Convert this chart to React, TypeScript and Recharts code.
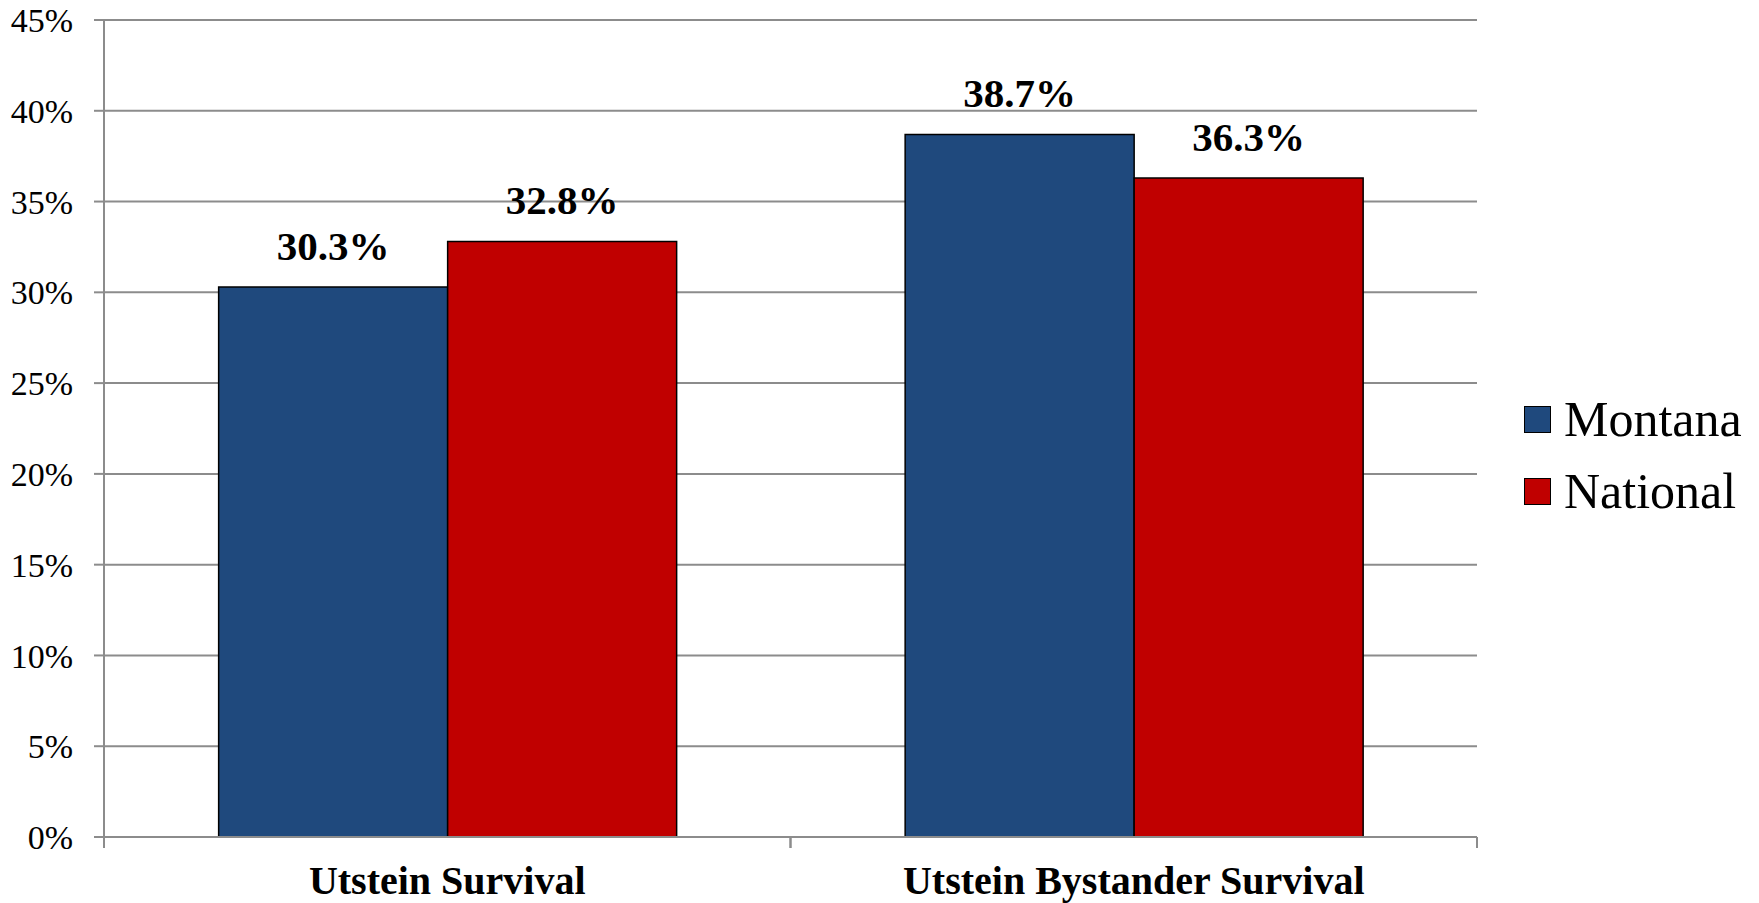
import React from 'react';
import { BarChart, Bar, XAxis, YAxis, CartesianGrid, Legend, LabelList } from 'recharts';

const categories = ['Utstein Survival', 'Utstein Bystander Survival'];
const montanaValues = [0.303, 0.387];
const nationalValues = [0.328, 0.363];
const yTicks = [0, 0.05, 0.1, 0.15, 0.2, 0.25, 0.3, 0.35, 0.4, 0.45];
const seriesNames = ['Montana', 'National'];
const seriesColors = ['#1F497D', '#C00000'];

const data = categories.map((c) => ({ category: c } as Record<string, any>));
categories.forEach((_, i) => {
  data[i].Montana = montanaValues[i];
  data[i].National = nationalValues[i];
});

const FONT = '"Liberation Serif", "Times New Roman", serif';
const GRID = '#8C8C8C';
const CAT_MARGIN = 31;
const CAT_TICK_LEN = 11;

const pct0 = (v: number) => `${Math.round(v * 100)}%`;
const pct1 = (v: any) => `${(Number(v) * 100).toFixed(1)}%`;

const CategoryTick = (props: any) => {
  const { x, y, payload } = props;
  const half = payload && payload.offset ? payload.offset : 0;
  const axisY = y - CAT_MARGIN;
  return (
    <g>
      <line x1={x - half} x2={x - half} y1={axisY} y2={axisY + CAT_TICK_LEN} stroke={GRID} strokeWidth={2} />
      <line x1={x + half} x2={x + half} y1={axisY} y2={axisY + CAT_TICK_LEN} stroke={GRID} strokeWidth={2} />
      <text
        x={x}
        y={y}
        dy={26}
        textAnchor="middle"
        fontFamily={FONT}
        fontWeight="bold"
        fontSize={40}
        fill="#000"
      >
        {payload.value}
      </text>
    </g>
  );
};

const LegendContent = () => (
  <div style={{ fontFamily: FONT, fontSize: 50, color: '#000' }}>
    {seriesNames.map((n, i) => (
      <div key={n} style={{ display: 'flex', alignItems: 'center', height: 72 }}>
        <div
          style={{
            boxSizing: 'border-box',
            flexShrink: 0,
            width: 27,
            height: 27,
            background: seriesColors[i],
            border: '1.5px solid #000',
            marginLeft: 47,
            marginRight: 13,
          }}
        />
        <span style={{ lineHeight: 1, whiteSpace: 'nowrap' }}>{n}</span>
      </div>
    ))}
  </div>
);

export default function App() {
  return (
    <div style={{ position: 'absolute', left: 0, top: 0, width: 1759, height: 903, background: '#fff' }}>
      <BarChart
        width={1759}
        height={903}
        data={data}
        margin={{ top: 20, right: 42, bottom: 0, left: 0 }}
        barCategoryGap="16.7%"
        barGap={0}
      >
        <CartesianGrid horizontal vertical={false} stroke={GRID} strokeWidth={2} />
        <XAxis
          dataKey="category"
          type="category"
          height={66}
          axisLine={{ stroke: GRID, strokeWidth: 2 }}
          tickLine={false}
          tickSize={0}
          tickMargin={CAT_MARGIN}
          tick={<CategoryTick />}
          interval={0}
        />
        <YAxis
          width={104}
          domain={[0, 0.45]}
          ticks={yTicks}
          tickFormatter={pct0}
          tickSize={10}
          tickMargin={21}
          axisLine={{ stroke: GRID, strokeWidth: 2 }}
          tickLine={{ stroke: GRID, strokeWidth: 2 }}
          tick={{ fontFamily: FONT, fontSize: 34, fill: '#000' }}
          interval={0}
        />
        <Legend
          layout="vertical"
          align="right"
          verticalAlign="top"
          width={240}
          wrapperStyle={{ left: 1477, top: 383 }}
          content={<LegendContent />}
        />
        {seriesNames.map((name, i) => (
          <Bar
            key={name}
            dataKey={name}
            fill={seriesColors[i]}
            stroke="#000"
            strokeWidth={1.5}
            isAnimationActive={false}
          >
            <LabelList
              dataKey={name}
              position="top"
              offset={27}
              formatter={pct1}
              style={{ fontFamily: FONT, fontWeight: 'bold', fontSize: 41, fill: '#000' }}
            />
          </Bar>
        ))}
      </BarChart>
    </div>
  );
}
